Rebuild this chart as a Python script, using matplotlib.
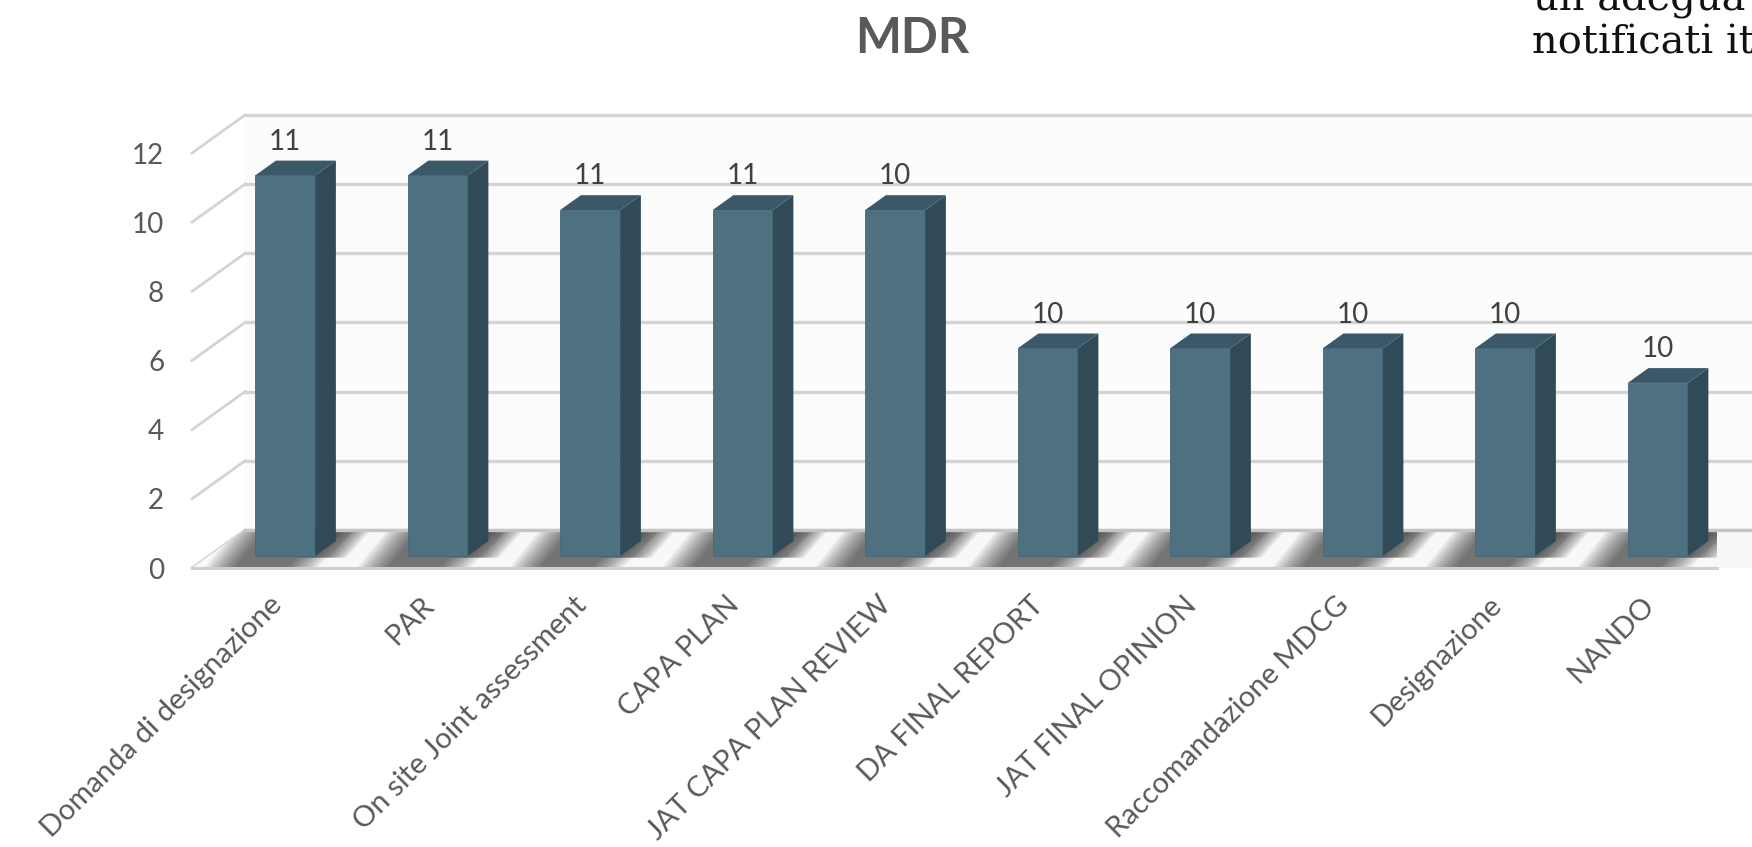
import numpy as np
import matplotlib
matplotlib.use("Agg")
import matplotlib.pyplot as plt
from matplotlib.patches import Polygon

categorie = ["Domanda di designazione", "PAR", "On site Joint assessment", "CAPA PLAN",
             "JAT CAPA PLAN REVIEW", "DA FINAL REPORT", "JAT FINAL OPINION",
             "Raccomandazione MDCG", "Designazione", "NANDO"]
altezze = [11, 11, 10, 10, 10, 6, 6, 6, 6, 5]
etichette = ["11", "11", "11", "11", "10", "10", "10", "10", "10", "10"]
yticks = [0, 2, 4, 6, 8, 10, 12]

plt.rcParams['font.family'] = ['Lato', 'DejaVu Sans']

W, H = 1752, 847
fig = plt.figure(figsize=(W / 100, H / 100), dpi=100)
fig.patch.set_facecolor('white')
ax = fig.add_axes([192 / W, (H - 568) / H, (1717 - 192) / W, (568 - 153) / H])
ax.set_xlim(-0.5, 9.5)
ax.set_ylim(0, 12)
ax.patch.set_visible(False)
for s in ax.spines.values():
    s.set_visible(False)

# depth of the "3D" box (front plane -> back wall), in data units
DX, DY = 0.3475, 1.099
grid_col = '#d4d4d4'
xmax_wall = 12

# back wall
ax.add_patch(Polygon([(-0.5 + DX, DY), (xmax_wall, DY), (xmax_wall, 12 + DY), (-0.5 + DX, 12 + DY)],
                     closed=True, facecolor='#fcfcfc', edgecolor='none', zorder=0.1, clip_on=False))
for v in yticks:
    ax.plot([-0.5 + DX, xmax_wall], [v + DY, v + DY], color=grid_col, lw=2.4, zorder=0.5, clip_on=False)
    ax.plot([-0.5, -0.5 + DX], [v, v + DY], color=grid_col, lw=2.0, zorder=0.5, clip_on=False)

# floor
floor = Polygon([(-0.5, 0), (xmax_wall, 0), (xmax_wall + DX, DY), (-0.5 + DX, DY)], closed=True,
                facecolor='#f8f8f8', edgecolor='none', zorder=0.8, clip_on=False)
ax.add_patch(floor)
ax.plot([-0.5, 9.5], [0, 0], color='#cfcfcf', lw=2.2, zorder=1.5, clip_on=False)
ax.plot([-0.5 + DX, xmax_wall], [DY, DY], color='#c4c4c4', lw=2.4, zorder=1.5, clip_on=False)

# soft shadows on the floor (stacked translucent layers = blur)
for i in range(len(categorie)):
    for k in range(12):
        e = 0.018 * k
        fl, fr = i - 0.22 - e, i + 0.12 + e
        bl, br = i - 0.02 - e, i + 0.38 + e
        pts = [(fl, 0), (fr, 0), (br, DY), (bl, DY)]
        sh = Polygon(pts, closed=True, facecolor='black', edgecolor='none', alpha=0.06, zorder=0.9)
        ax.add_patch(sh)
        sh.set_clip_path(floor)
    # darker patch just behind the right side of the bar
    for k in range(8):
        e = 0.016 * k
        pts = [(i + 0.28 - e, 0.3), (i + 0.40 + e, 0.3), (i + 0.56 + e, DY), (i + 0.40 - e, DY)]
        sh = Polygon(pts, closed=True, facecolor='black', edgecolor='none', alpha=0.07, zorder=0.9)
        ax.add_patch(sh)
        sh.set_clip_path(floor)

# bars
fa, fb = 0.32, 0.71
ox, oy = DX * fa, DY * fa
dx, dy = DX * (fb - fa), DY * (fb - fa)
bw = 60 / 152.5
x = np.arange(len(categorie))
ax.bar(x + ox, altezze, width=bw, bottom=oy, color='#4e7182', edgecolor='#46677a', lw=0.6, zorder=2)
for xi, h in zip(x, altezze):
    xl, xr = xi + ox - bw / 2, xi + ox + bw / 2
    top = h + oy
    ax.add_patch(Polygon([(xr, oy), (xr + dx, oy + dy), (xr + dx, top + dy), (xr, top)], closed=True,
                         facecolor='#304a58', edgecolor='none', zorder=2, clip_on=False))
    ax.add_patch(Polygon([(xl, top), (xl + dx, top + dy), (xr + dx, top + dy), (xr, top)], closed=True,
                         facecolor='#3a5867', edgecolor='none', zorder=2, clip_on=False))

for xi, h, lab in zip(x, altezze, etichette):
    ax.text(xi + ox, h + oy + dy + 0.17, lab, ha='center', va='bottom', fontsize=20,
            color='#404040', zorder=3)

# axes labels
ax.set_yticks(yticks)
ax.set_yticklabels([str(v) for v in yticks], fontsize=20, color='#595959')
ax.tick_params(axis='y', length=0, pad=20)
ax.set_xticks(x)
ax.set_xticklabels(categorie, fontsize=21, color='#595959', rotation=45, ha='right',
                   rotation_mode='anchor')
ax.tick_params(axis='x', length=0, pad=17)

fig.text(912 / W, 1 - 53 / H, 'MDR', ha='center', va='baseline', fontsize=35,
         fontweight='bold', color='#595959')

# text of the slide behind the chart (cut at the edge, as in the source)
fig.text(1533 / W, 1 - 10 / H, 'un adegua', ha='left', va='baseline',
         fontsize=28.8, family='DejaVu Serif', color='#111111')
fig.text(1532 / W, 1 - 53 / H, 'notificati it', ha='left', va='baseline',
         fontsize=28.8, family='DejaVu Serif', color='#111111')

fig.savefig('out.png', dpi=100)
